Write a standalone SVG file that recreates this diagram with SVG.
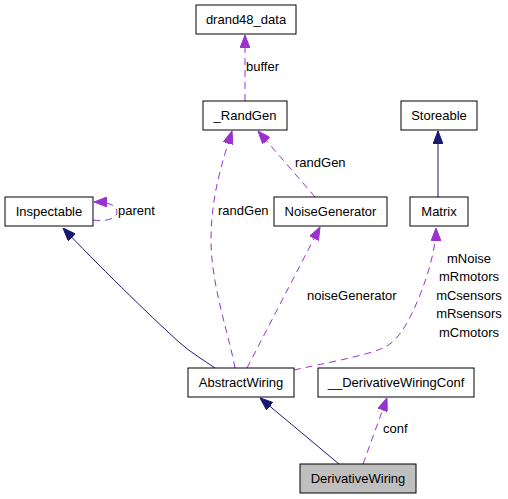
<svg xmlns="http://www.w3.org/2000/svg" width="508" height="499" viewBox="0 0 508 499">
<style>
.node rect{fill:#ffffff;stroke:#000000;stroke-width:1}
.node.main rect{fill:#bfbfbf}
text{font-family:"Liberation Sans",Arial,sans-serif;font-size:13px;fill:#000000}
.node text{text-anchor:middle}
.inh{fill:none;stroke:#191970;stroke-width:1}
.use{fill:none;stroke:#9a32cd;stroke-width:1;stroke-dasharray:7,5}
.lbl{text-anchor:start}
.lblc{text-anchor:middle}
</style>
<defs>
<marker id="ah-inh" markerUnits="userSpaceOnUse" markerWidth="13" markerHeight="10" refX="13" refY="5" orient="auto">
<path d="M0,0 L13,5 L0,10 z" fill="#191970" stroke="#191970" stroke-width="1"/>
</marker>
<marker id="ah-use" markerUnits="userSpaceOnUse" markerWidth="13" markerHeight="10" refX="13" refY="5" orient="auto">
<path d="M0,0 L13,5 L0,10 z" fill="#9a32cd" stroke="#9a32cd" stroke-width="1"/>
</marker>
</defs>
<rect width="508" height="499" fill="#ffffff"/>
<g id="connectors">
<path class="use" d="M245,101 L245,35" marker-end="url(#ah-use)"/>
<text class="lbl" x="246" y="71">buffer</text>
<path class="use" d="M235,368 C229,335 211,285 211,240 C211,195 223,160 232,131" marker-end="url(#ah-use)"/>
<text class="lbl" x="218" y="215">randGen</text>
<path class="use" d="M315,197 L258,131" marker-end="url(#ah-use)"/>
<text class="lbl" x="295" y="167">randGen</text>
<path class="use" d="M93,220 C105,222 117,219 117,212 C117,205 108,202 94,202" marker-end="url(#ah-use)"/>
<text class="lbl" x="118" y="215">parent</text>
<path class="inh" d="M215,368 C205,361 190,352 180,343 C148,314 95,262 63,228" marker-end="url(#ah-inh)"/>
<path class="use" d="M247,368 L320,227" marker-end="url(#ah-use)"/>
<text class="lbl" x="307" y="300">noiseGenerator</text>
<path class="use" d="M294,370 C320,364 372,355 387,346 C400,338 410,320 420,295 C430,270 436,245 436,228" marker-end="url(#ah-use)"/>
<text class="lblc" x="469" y="263">mNoise</text>
<text class="lblc" x="469" y="281">mRmotors</text>
<text class="lblc" x="469" y="300">mCsensors</text>
<text class="lblc" x="469" y="318">mRsensors</text>
<text class="lblc" x="469" y="337">mCmotors</text>
<path class="inh" d="M438,197 L438,131" marker-end="url(#ah-inh)"/>
<path class="inh" d="M339,464 L260,398" marker-end="url(#ah-inh)"/>
<path class="use" d="M363,464 L387,398" marker-end="url(#ah-use)"/>
<text class="lbl" x="383" y="433">conf</text>
</g>
<g id="drand48_data" class="node"><rect x="196" y="5" width="100" height="29"/><text x="246" y="24">drand48_data</text></g>
<g id="RandGen" class="node"><rect x="203" y="101" width="84" height="29"/><text x="245" y="120">_RandGen</text></g>
<g id="Storeable" class="node"><rect x="401" y="101" width="76" height="29"/><text x="439" y="120">Storeable</text></g>
<g id="Inspectable" class="node"><rect x="5" y="197" width="88" height="29"/><text x="49" y="216">Inspectable</text></g>
<g id="NoiseGenerator" class="node"><rect x="274" y="197" width="113" height="29"/><text x="330.5" y="216">NoiseGenerator</text></g>
<g id="Matrix" class="node"><rect x="410" y="197" width="58" height="29"/><text x="439" y="216">Matrix</text></g>
<g id="AbstractWiring" class="node"><rect x="188" y="368" width="106" height="29"/><text x="241" y="387">AbstractWiring</text></g>
<g id="DerivativeWiringConf" class="node"><rect x="318" y="368" width="156" height="29"/><text x="396" y="387">__DerivativeWiringConf</text></g>
<g id="DerivativeWiring" class="node main"><rect x="300" y="464" width="116" height="29"/><text x="358" y="483">DerivativeWiring</text></g>
</svg>
